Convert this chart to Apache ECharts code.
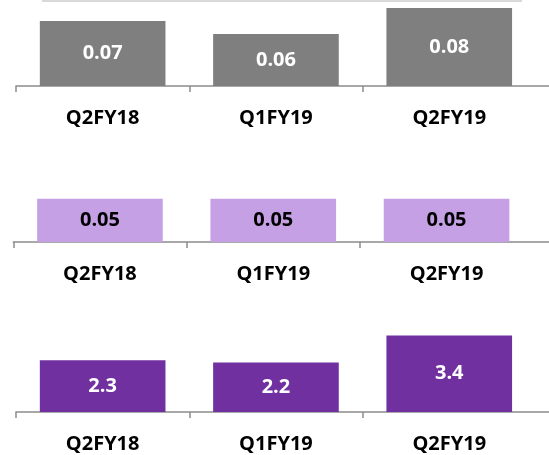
<!DOCTYPE html>
<html>
<head>
<meta charset="utf-8">
<script src="https://cdn.jsdelivr.net/npm/echarts@6/dist/echarts.min.js"></script>
<style>
  html, body { margin: 0; padding: 0; background: #ffffff; }
  #chart { width: 549px; height: 455px; }
</style>
</head>
<body>
<div id="chart"></div>
<script>
// Quarters shown under each panel
const categories = ['Q2FY18', 'Q1FY19', 'Q2FY19'];

// Values for the three stacked panels (top to bottom)
const greyValues = [0.07, 0.06, 0.08];
const lilacValues = [0.05, 0.05, 0.05];
const purpleValues = [2.3, 2.2, 3.4];

// Panel layout: baseline position, value range and colours
const panels = [
  { data: greyValues,   color: '#7f7f7f', labelColor: '#ffffff', left: 16,   top: -5,  height: 91, min: 0.02, max: 0.09 },
  { data: lilacValues,  color: '#c6a0e4', labelColor: '#000000', left: 13.3, top: 190, height: 52, min: 0,    max: 0.06 },
  { data: purpleValues, color: '#7030a0', labelColor: '#ffffff', left: 16,   top: 322, height: 90, min: 0,    max: 4 }
];

const catWidth = 173.3;
// A trailing empty slot carries the baseline past the last bar to the edge
const axisCats = categories.concat(['']);
const axisColor = '#8c8c8c';
const font = '"Open Sans", "Liberation Sans", sans-serif';

const option = {
  animation: false,
  backgroundColor: '#ffffff',
  grid: panels.map(p => ({
    left: p.left, top: p.top, width: catWidth * axisCats.length, height: p.height,
    containLabel: false,
    outerBoundsMode: 'none'
  })),
  xAxis: panels.map((p, i) => ({
    type: 'category',
    gridIndex: i,
    data: axisCats,
    boundaryGap: true,
    axisLine: { show: true, lineStyle: { color: axisColor, width: 1.5 } },
    axisTick: {
      show: true, length: 6, inside: false,
      interval: idx => idx < categories.length,
      lineStyle: { color: axisColor, width: 1.5 }
    },
    axisLabel: {
      interval: 0, margin: 22,
      color: '#000000', fontFamily: font, fontWeight: 'bold', fontSize: 20
    },
    splitLine: { show: false }
  })),
  yAxis: panels.map((p, i) => ({
    type: 'value',
    gridIndex: i,
    min: p.min, max: p.max,
    show: false,
    splitLine: { show: false }
  })),
  series: panels.map((p, i) => ({
    type: 'bar',
    xAxisIndex: i,
    yAxisIndex: i,
    data: p.data,
    barCategoryGap: '27.5%',
    itemStyle: { color: p.color },
    label: {
      show: true, position: 'inside',
      color: p.labelColor, fontFamily: font, fontWeight: 'bold', fontSize: 20,
      formatter: d => String(d.value)
    }
  })),
  graphic: [
    {
      // thin rule along the top edge
      type: 'rect',
      shape: { x: 42, y: 0, width: 480, height: 2 },
      style: { fill: '#d9d9d9' },
      silent: true
    }
  ]
};

const chart = echarts.init(document.getElementById('chart'), null, { renderer: 'canvas' });
chart.setOption(option);
</script>
</body>
</html>
